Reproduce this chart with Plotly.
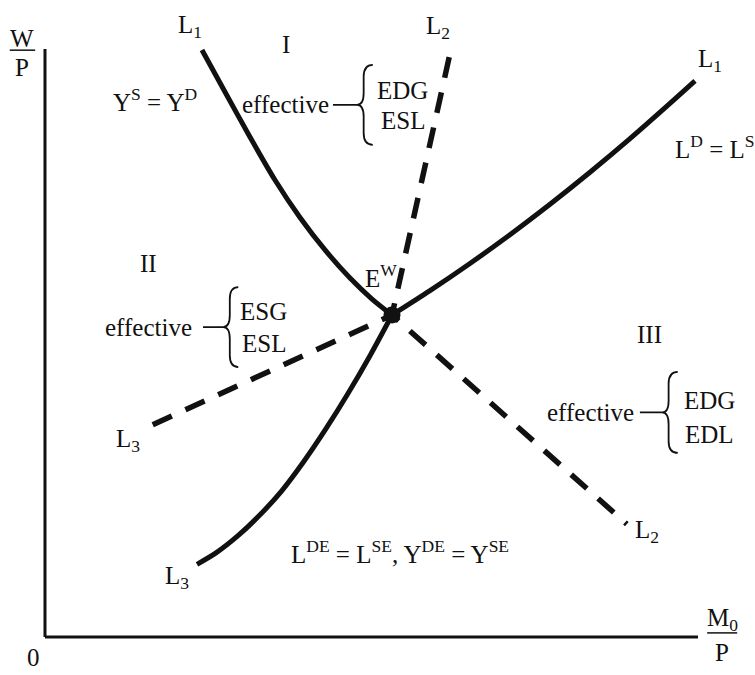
import plotly.graph_objects as go

# Curves of the disequilibrium regime diagram (x = M0/P, y = W/P), in axis units 0..100
l1_upper_x = [24.04, 27.57, 31.39, 35.22, 39.05, 42.88, 46.71, 50.08, 53.14]
l1_upper_y = [99.83, 92.69, 85.03, 77.72, 71.34, 65.82, 61.05, 57.48, 54.76]

l1_right_x = [53.14, 58.96, 65.08, 71.21, 77.34, 83.46, 89.59, 95.71, 99.54]
l1_right_y = [54.76, 58.90, 63.52, 68.42, 73.59, 79.03, 84.74, 90.73, 94.56]

l3_solid_x = [53.14, 49.77, 46.40, 43.03, 39.66, 36.29, 32.93, 29.56, 26.19, 23.28]
l3_solid_y = [54.76, 47.84, 41.41, 35.42, 29.88, 24.90, 20.78, 17.23, 14.30, 12.36]

l2_dash_x = [61.9, 53.14, 89.1]
l2_dash_y = [98.6, 54.76, 19.2]

l3_dash_x = [16.5, 53.14]
l3_dash_y = [36.1, 54.76]

equilibrium_x = [53.14]
equilibrium_y = [54.76]

INK = "#111111"
FONT = "Liberation Serif, Times New Roman, serif"
SOLID_W = 5
DASH_W = 5.5
DASH = "21px,15px"

fig = go.Figure()

# axes
fig.add_trace(go.Scatter(x=[0, 100], y=[0, 0], mode="lines",
                         line=dict(color=INK, width=3), hoverinfo="skip"))
fig.add_trace(go.Scatter(x=[0, 0], y=[0, 100], mode="lines",
                         line=dict(color=INK, width=3), hoverinfo="skip"))

# solid loci
for xs, ys in [(l1_upper_x, l1_upper_y), (l1_right_x, l1_right_y), (l3_solid_x, l3_solid_y)]:
    fig.add_trace(go.Scatter(x=xs, y=ys, mode="lines",
                             line=dict(color=INK, width=SOLID_W, shape="spline", smoothing=0.8),
                             hoverinfo="skip"))

# dashed loci
for xs, ys in [(l2_dash_x, l2_dash_y), (l3_dash_x, l3_dash_y)]:
    fig.add_trace(go.Scatter(x=xs, y=ys, mode="lines",
                             line=dict(color=INK, width=DASH_W, dash=DASH),
                             hoverinfo="skip"))

# Walrasian equilibrium
fig.add_trace(go.Scatter(x=equilibrium_x, y=equilibrium_y, mode="markers",
                         marker=dict(color=INK, size=17), hoverinfo="skip"))


def brace_path(x_tick, x_tip, x_spine, x_end, y_top, y_mid, y_bot, r):
    """Left curly brace with a short lead-in stroke at its point."""
    return (f"M {x_tick},{y_mid} L {x_tip},{y_mid} "
            f"M {x_end},{y_top} Q {x_spine},{y_top} {x_spine},{y_top - r} "
            f"L {x_spine},{y_mid + r} Q {x_spine},{y_mid} {x_tip},{y_mid} "
            f"Q {x_spine},{y_mid} {x_spine},{y_mid - r} "
            f"L {x_spine},{y_bot + r} Q {x_spine},{y_bot} {x_end},{y_bot}")


shapes = []
for (xt, xp, xs, xe, yt, ym, yb) in [
    (44.1, 47.8, 48.8, 50.2, 97.3, 90.5, 83.7),
    (24.2, 27.3, 28.3, 29.6, 59.5, 52.7, 45.9),
    (91.1, 94.5, 95.5, 96.9, 45.1, 38.2, 31.3),
]:
    shapes.append(dict(type="path", xref="x", yref="y",
                       path=brace_path(xt, xp, xs, xe, yt, ym, yb, 2.0),
                       line=dict(color=INK, width=1.8)))

# fraction bars of the axis titles
shapes.append(dict(type="line", xref="x", yref="y", x0=-5.4, x1=-1.5, y0=99.8, y1=99.8,
                   line=dict(color=INK, width=1.5)))
shapes.append(dict(type="line", xref="x", yref="y", x0=101.4, x1=106.0, y0=0.7, y1=0.7,
                   line=dict(color=INK, width=1.5)))

labels = [
    ("L<sub>1</sub>", 22.2, 103.9),
    ("I", 36.9, 100.7),
    ("L<sub>2</sub>", 60.2, 103.7),
    ("L<sub>1</sub>", 101.8, 98.0),
    ("Y<sup>S</sup> = Y<sup>D</sup>", 16.8, 91.3),
    ("effective", 36.8, 90.5),
    ("EDG", 54.8, 93.0),
    ("ESL", 54.8, 87.8),
    ("L<sup>D</sup> = L<sup>S</sup>", 102.6, 83.3),
    ("II", 15.8, 63.6),
    ("E<sup>W</sup>", 51.5, 61.4),
    ("effective", 15.9, 52.7),
    ("ESG", 33.5, 55.3),
    ("ESL", 33.5, 50.0),
    ("III", 92.6, 51.4),
    ("effective", 83.5, 38.1),
    ("EDG", 101.8, 40.3),
    ("EDL", 101.8, 34.4),
    ("L<sub>3</sub>", 12.7, 33.5),
    ("L<sub>3</sub>", 20.2, 10.2),
    ("L<sup>DE</sup> = L<sup>SE</sup>, Y<sup>DE</sup> = Y<sup>SE</sup>", 54.4, 14.5),
    ("L<sub>2</sub>", 92.2, 17.9),
    ("0", -1.8, -3.4),
    ("W", -3.5, 101.7),
    ("P", -3.5, 96.9),
    ("M<sub>0</sub>", 103.7, 2.9),
    ("P", 103.7, -2.6),
]

annotations = [dict(text=t, x=x, y=y, xref="x", yref="y", showarrow=False,
                    xanchor="center", yanchor="middle",
                    font=dict(family=FONT, size=25, color=INK))
               for t, x, y in labels]

fig.update_layout(
    width=755, height=675,
    margin=dict(l=0, r=0, t=0, b=0),
    paper_bgcolor="white", plot_bgcolor="white",
    showlegend=False,
    xaxis=dict(range=[-6.89, 108.73], visible=False, fixedrange=True),
    yaxis=dict(range=[-6.46, 108.33], visible=False, fixedrange=True),
    shapes=shapes,
    annotations=annotations,
)

fig.write_html("out.html", config={"displayModeBar": False})
